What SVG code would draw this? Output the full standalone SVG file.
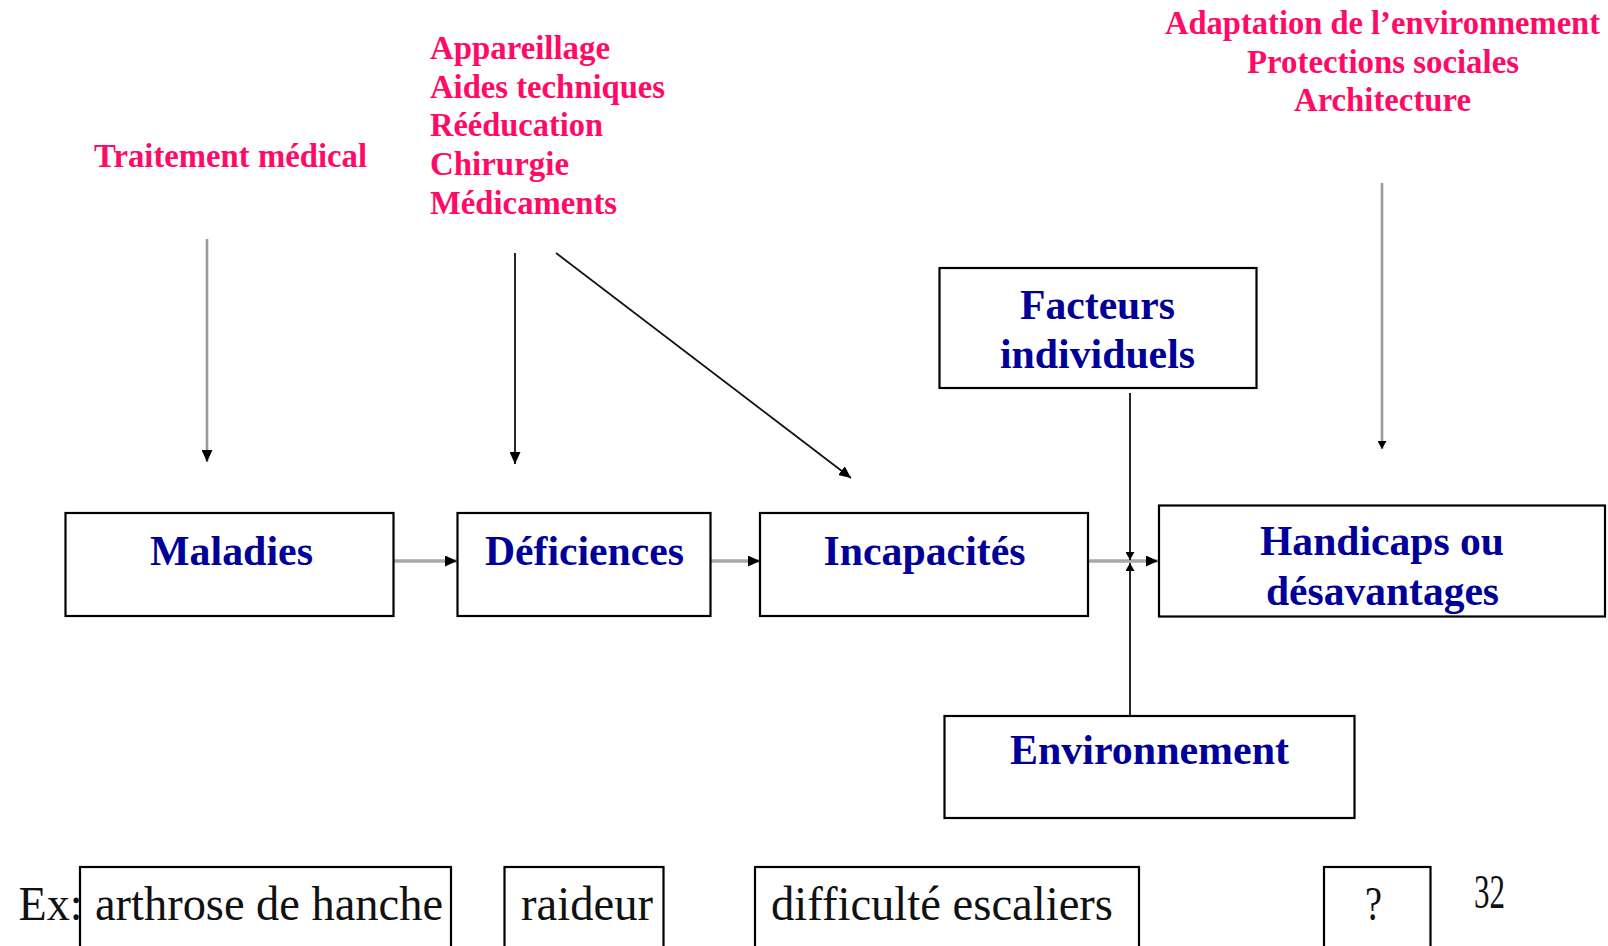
<svg xmlns="http://www.w3.org/2000/svg" width="1608" height="946" viewBox="0 0 1608 946">
  <style>
    .box { fill: none; stroke: #000; stroke-width: 2.2; }
    .lbl { font-family: "Liberation Serif", "Times New Roman", serif; font-weight: bold; font-size: 43px; fill: #000099; }
    .pink { font-family: "Liberation Serif", "Times New Roman", serif; font-weight: bold; font-size: 34px; fill: #ff0a66; }
    .ex { font-family: "Liberation Serif", "Times New Roman", serif; font-size: 48px; fill: #111; }
    .gray { stroke: #a8a8a8; stroke-width: 3.5; fill: none; }
    .thin { stroke: #111; stroke-width: 1.8; fill: none; }
    .mid { stroke: #9a9a9a; stroke-width: 2.6; fill: none; }
  </style>
  <defs>
    <marker id="head" markerUnits="userSpaceOnUse" markerWidth="13" markerHeight="11" refX="12" refY="5.5" orient="auto">
      <path d="M0,0 L12,5.5 L0,11 z" fill="#000"/>
    </marker>
    <marker id="small" markerUnits="userSpaceOnUse" markerWidth="9" markerHeight="9" refX="8" refY="4.5" orient="auto">
      <path d="M0,0 L8,4.5 L0,9 z" fill="#000"/>
    </marker>
  </defs>

  <rect width="1608" height="946" fill="#fff"/>

  <!-- intervention labels -->
  <g id="traitement">
    <text class="pink" x="94" y="167" textLength="273" lengthAdjust="spacingAndGlyphs">Traitement médical</text>
  </g>
  <g id="aides">
    <text class="pink" x="430" y="58.5" textLength="180" lengthAdjust="spacingAndGlyphs">Appareillage</text>
    <text class="pink" x="430" y="97.5" textLength="235" lengthAdjust="spacingAndGlyphs">Aides techniques</text>
    <text class="pink" x="430" y="135.5" textLength="173" lengthAdjust="spacingAndGlyphs">Rééducation</text>
    <text class="pink" x="430" y="174.5" textLength="139" lengthAdjust="spacingAndGlyphs">Chirurgie</text>
    <text class="pink" x="430" y="213.5" textLength="187" lengthAdjust="spacingAndGlyphs">Médicaments</text>
  </g>
  <g id="adaptation">
    <text class="pink" x="1165" y="34" textLength="435" lengthAdjust="spacingAndGlyphs">Adaptation de l’environnement</text>
    <text class="pink" x="1247" y="73" textLength="272" lengthAdjust="spacingAndGlyphs">Protections sociales</text>
    <text class="pink" x="1294" y="111" textLength="177" lengthAdjust="spacingAndGlyphs">Architecture</text>
  </g>

  <!-- connectors -->
  <g id="connectors">
    <line class="mid" x1="207" y1="239" x2="207" y2="462" marker-end="url(#head)"/>
    <line class="thin" x1="515" y1="253" x2="515" y2="464" marker-end="url(#head)"/>
    <line class="thin" x1="556" y1="253" x2="851" y2="478" marker-end="url(#head)"/>
    <line class="mid" x1="1382" y1="183" x2="1382" y2="449" marker-end="url(#small)"/>

    <line class="gray" x1="394" y1="561" x2="457" y2="561" marker-end="url(#head)"/>
    <line class="gray" x1="711" y1="561" x2="760" y2="561" marker-end="url(#head)"/>
    <line class="gray" x1="1088" y1="561" x2="1158" y2="561" marker-end="url(#head)"/>

    <line class="thin" x1="1130" y1="393" x2="1130" y2="560" marker-end="url(#small)"/>
    <line class="thin" x1="1130" y1="715" x2="1130" y2="563" marker-end="url(#small)"/>
  </g>

  <!-- main chain -->
  <g id="maladies">
    <rect class="box" x="65.5" y="513" width="328" height="103"/>
    <text class="lbl" x="150" y="565" textLength="163" lengthAdjust="spacingAndGlyphs">Maladies</text>
  </g>
  <g id="deficiences">
    <rect class="box" x="457.5" y="513" width="253" height="103"/>
    <text class="lbl" x="485" y="565" textLength="199" lengthAdjust="spacingAndGlyphs">Déficiences</text>
  </g>
  <g id="incapacites">
    <rect class="box" x="760" y="513" width="328" height="103"/>
    <text class="lbl" x="823.5" y="565" textLength="202" lengthAdjust="spacingAndGlyphs">Incapacités</text>
  </g>
  <g id="handicaps">
    <rect class="box" x="1159" y="505.5" width="446" height="111"/>
    <text class="lbl" x="1260" y="555" textLength="244" lengthAdjust="spacingAndGlyphs">Handicaps ou</text>
    <text class="lbl" x="1266" y="605" textLength="233" lengthAdjust="spacingAndGlyphs">désavantages</text>
  </g>
  <g id="facteurs">
    <rect class="box" x="939.5" y="268" width="317" height="120"/>
    <text class="lbl" x="1020" y="319" textLength="155" lengthAdjust="spacingAndGlyphs">Facteurs</text>
    <text class="lbl" x="1000" y="368" textLength="195" lengthAdjust="spacingAndGlyphs">individuels</text>
  </g>
  <g id="environnement">
    <rect class="box" x="944.5" y="716" width="410" height="102"/>
    <text class="lbl" x="1010" y="764" textLength="279" lengthAdjust="spacingAndGlyphs">Environnement</text>
  </g>

  <!-- example row -->
  <g id="exemple">
    <text class="ex" x="18.5" y="920" textLength="64" lengthAdjust="spacingAndGlyphs">Ex:</text>
  </g>
  <g id="ex-arthrose">
    <rect class="box" x="80" y="867" width="371" height="100" fill="#fff"/>
    <text class="ex" x="95" y="920" textLength="348" lengthAdjust="spacingAndGlyphs">arthrose de hanche</text>
  </g>
  <g id="ex-raideur">
    <rect class="box" x="504.5" y="867" width="159" height="100"/>
    <text class="ex" x="521" y="920" textLength="132" lengthAdjust="spacingAndGlyphs">raideur</text>
  </g>
  <g id="ex-escaliers">
    <rect class="box" x="755" y="867" width="384" height="100"/>
    <text class="ex" x="771" y="920" textLength="342" lengthAdjust="spacingAndGlyphs">difficulté escaliers</text>
  </g>
  <g id="ex-question">
    <rect class="box" x="1324" y="867" width="106.5" height="100"/>
    <text class="ex" x="1365" y="920" textLength="17" lengthAdjust="spacingAndGlyphs">?</text>
  </g>
  <g id="page-number">
    <text class="ex" x="1474" y="907.5" font-size="31" textLength="31" lengthAdjust="spacingAndGlyphs">32</text>
  </g>
</svg>
